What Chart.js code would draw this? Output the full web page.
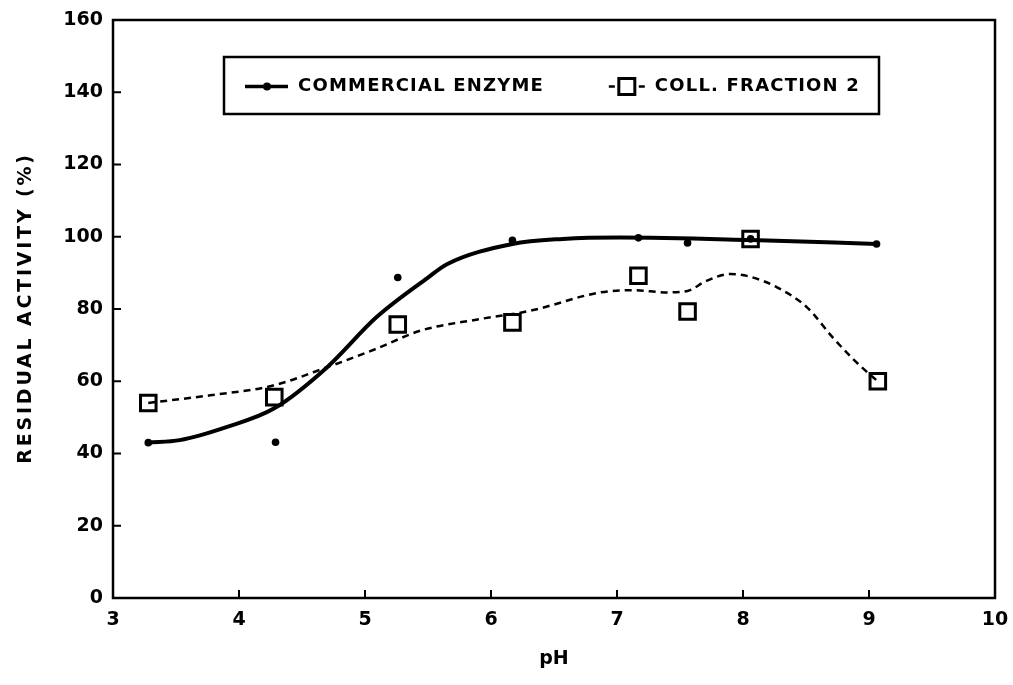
<!DOCTYPE html>
<html>
<head>
<meta charset="utf-8">
<script src="https://cdn.jsdelivr.net/npm/chart.js@4.4.1/dist/chart.umd.min.js"></script>
<style>
  html, body { margin: 0; padding: 0; background: #fff; }
  #wrap { width: 1013px; height: 685px; position: relative; }
</style>
</head>
<body>
<div id="wrap"><canvas id="phChart"></canvas></div>
<script>
'use strict';

// ── Data ─────────────────────────────────────────────────────────────────────

// measured points, commercial enzyme (small dots)
const enzymePh  = [3.28, 4.29, 5.26, 6.17, 7.17, 7.56, 8.06, 9.06];
const enzymeAct = [43.0, 43.1, 88.7, 99.0, 99.7, 98.3, 99.4, 98.0];

// measured points, coll. fraction 2 (open squares)
const fractionPh  = [3.28, 4.28, 5.26, 6.17, 7.17, 7.56, 8.06, 9.07];
const fractionAct = [54.0, 55.6, 75.7, 76.3, 89.2, 79.3, 99.4, 60.0];

// hand-drawn trend curve through the enzyme data (solid)
const enzymeCurvePh  = [3.28, 3.53, 3.90, 4.28, 4.70, 5.09, 5.50, 5.65, 6.17, 6.57, 7.02, 8.06, 9.06];
const enzymeCurveAct = [43.0, 43.7, 47.3, 52.5, 63.9, 77.7, 88.7, 92.4, 98.0, 99.4, 99.8, 99.1, 98.0];

// hand-drawn trend curve through the fraction data (dashed)
const fractionCurvePh  = [3.28, 3.77, 4.27, 4.70, 5.09, 5.44, 5.91, 6.31, 6.87, 7.13, 7.40, 7.56, 7.71, 7.90, 8.06, 8.27, 8.51, 8.71, 8.87, 8.97, 9.07];
const fractionCurveAct = [54.0, 56.1, 58.8, 63.9, 69.0, 74.0, 77.2, 79.5, 84.6, 85.2, 84.6, 85.0, 87.8, 89.7, 88.9, 86.0, 80.4, 72.2, 66.3, 63.0, 60.0];

const xTicks = [3, 4, 5, 6, 7, 8, 9, 10];
const yTicks = [0, 20, 40, 60, 80, 100, 120, 140, 160];

const yTitle = 'RESIDUAL ACTIVITY (%)';
const xTitle = 'pH';
const legendLabels = ['COMMERCIAL ENZYME', 'COLL. FRACTION 2'];

// ── Helpers ──────────────────────────────────────────────────────────────────

const FONT = '"DejaVu Sans", "Liberation Sans", sans-serif';
const INK = '#000';

function toXY(xs, ys) {
  return xs.map((x, i) => ({ x, y: ys[i] }));
}

// Frame, inward tick marks, spaced-out y title and the boxed legend
const framePlugin = {
  id: 'frame',
  afterDraw(chart) {
    const { ctx, chartArea: a, scales } = chart;
    ctx.save();
    ctx.strokeStyle = INK;
    ctx.fillStyle = INK;
    ctx.lineWidth = 2.5;
    ctx.strokeRect(a.left, a.top, a.right - a.left, a.bottom - a.top);

    // inward ticks
    ctx.lineWidth = 2;
    ctx.beginPath();
    yTicks.slice(1, -1).forEach(v => {
      const py = scales.y.getPixelForValue(v);
      ctx.moveTo(a.left, py);
      ctx.lineTo(a.left + 8, py);
    });
    xTicks.slice(1, -1).forEach(v => {
      const px = scales.x.getPixelForValue(v);
      ctx.moveTo(px, a.bottom);
      ctx.lineTo(px, a.bottom - 8);
    });
    ctx.stroke();

    // y title, letter-spaced like the original lettering
    ctx.save();
    ctx.font = 'bold 19px ' + FONT;
    ctx.letterSpacing = '2.8px';
    ctx.textAlign = 'center';
    ctx.textBaseline = 'middle';
    ctx.translate(26, 308);
    ctx.rotate(-Math.PI / 2);
    ctx.fillText(yTitle, 0, 0);
    ctx.restore();

    // legend box
    const L = { left: 224, top: 57, right: 879, bottom: 114 };
    const cy = (L.top + L.bottom) / 2 + 1;
    ctx.lineWidth = 2.5;
    ctx.strokeRect(L.left, L.top, L.right - L.left, L.bottom - L.top);

    ctx.font = 'bold 18px ' + FONT;
    ctx.letterSpacing = '1.2px';
    ctx.textBaseline = 'middle';
    ctx.textAlign = 'left';

    // item 1: solid line with dot
    ctx.lineWidth = 3.5;
    ctx.beginPath();
    ctx.moveTo(245, cy);
    ctx.lineTo(288, cy);
    ctx.stroke();
    ctx.beginPath();
    ctx.arc(267, cy, 4, 0, Math.PI * 2);
    ctx.fill();
    ctx.fillText(legendLabels[0], 298, cy);

    // item 2: dash - square - dash, text ends near the right border
    const tx = 860 - ctx.measureText(legendLabels[1]).width;
    ctx.lineWidth = 2.5;
    ctx.beginPath();
    ctx.moveTo(tx - 46, cy);
    ctx.lineTo(tx - 40, cy);
    ctx.moveTo(tx - 16, cy);
    ctx.lineTo(tx - 10, cy);
    ctx.stroke();
    ctx.lineWidth = 3;
    ctx.strokeRect(tx - 36, cy - 8, 16, 16);
    ctx.fillText(legendLabels[1], tx, cy);
    ctx.restore();
  },
};

// ── Chart ────────────────────────────────────────────────────────────────────

const ctx = document.getElementById('phChart').getContext('2d');

new Chart(ctx, {
  type: 'scatter',
  data: {
    datasets: [
      {
        label: 'enzyme curve',
        data: toXY(enzymeCurvePh, enzymeCurveAct),
        showLine: true,
        borderColor: INK,
        borderWidth: 4,
        pointRadius: 0,
        cubicInterpolationMode: 'monotone',
      },
      {
        label: 'fraction curve',
        data: toXY(fractionCurvePh, fractionCurveAct),
        showLine: true,
        borderColor: INK,
        borderWidth: 2.5,
        borderDash: [7, 5],
        pointRadius: 0,
        cubicInterpolationMode: 'monotone',
      },
      {
        label: legendLabels[0],
        data: toXY(enzymePh, enzymeAct),
        showLine: false,
        pointStyle: 'circle',
        pointRadius: 3.8,
        backgroundColor: INK,
        borderColor: INK,
        borderWidth: 0,
      },
      {
        label: legendLabels[1],
        data: toXY(fractionPh, fractionAct),
        showLine: false,
        pointStyle: 'rect',
        pointRadius: 11,
        backgroundColor: 'transparent',
        borderColor: INK,
        borderWidth: 3,
      },
    ],
  },
  options: {
    responsive: true,
    maintainAspectRatio: false,
    animation: false,
    layout: { padding: { left: 0, top: 20, right: 18, bottom: 0 } },
    plugins: {
      legend: { display: false },
      tooltip: { enabled: false },
    },
    scales: {
      x: {
        type: 'linear',
        min: 3,
        max: 10,
        afterBuildTicks: s => { s.ticks = xTicks.map(v => ({ value: v })); },
        afterFit: s => { s.height = 87; s.paddingLeft = 0; s.paddingRight = 0; },
        grid: { display: false, drawTicks: false },
        border: { display: false },
        ticks: {
          color: INK,
          padding: 11,
          font: { family: FONT, size: 19, weight: 'bold' },
        },
        title: {
          display: true,
          text: xTitle,
          color: INK,
          padding: { top: 4, bottom: 15 },
          font: { family: FONT, size: 19, weight: 'bold' },
        },
      },
      y: {
        type: 'linear',
        min: 0,
        max: 160,
        afterBuildTicks: s => { s.ticks = yTicks.map(v => ({ value: v })); },
        afterFit: s => { s.width = 113; s.paddingTop = 0; s.paddingBottom = 0; },
        grid: { display: false, drawTicks: false },
        border: { display: false },
        ticks: {
          color: INK,
          padding: 10,
          font: { family: FONT, size: 19, weight: 'bold' },
        },
        title: { display: false },
      },
    },
  },
  plugins: [framePlugin],
});
</script>
</body>
</html>
